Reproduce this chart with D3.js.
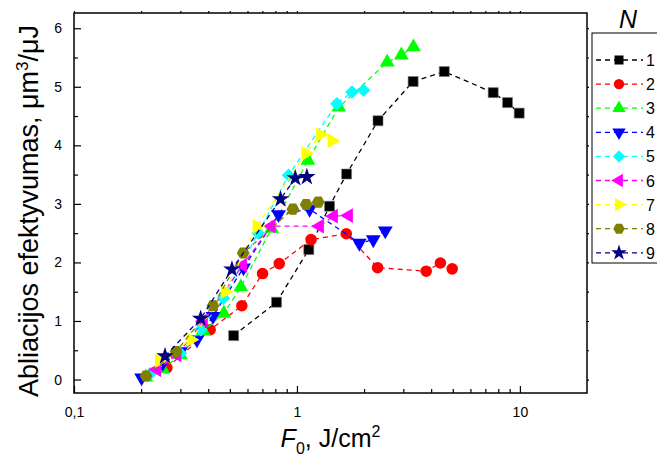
<!DOCTYPE html>
<html>
<head>
<meta charset="utf-8">
<script src="https://cdn.jsdelivr.net/npm/d3@7"></script>
<style>
  body { margin: 0; background: white; }
  text { font-family: "Liberation Sans", Arial, sans-serif; fill: black; }
</style>
</head>
<body>
<div id="container"></div>
<script>
/* CONSTANTS AND GLOBALS */
const width = 657;
const height = 457;
const margin = { top: 13, right: 70, bottom: 64, left: 74 };

// DATA - [F0 (J/cm2), ablation efficiency (um3/uJ)] FOR EACH N
const n1 = [[0.52, 0.75], [0.81, 1.32], [1.13, 2.22], [1.40, 2.96], [1.67, 3.51], [2.31, 4.42], [3.32, 5.09], [4.58, 5.26], [7.59, 4.90], [8.80, 4.73], [9.93, 4.55]];
const n2 = [[0.261, 0.20], [0.408, 0.85], [0.566, 1.26], [0.701, 1.81], [0.833, 1.98], [1.157, 2.39], [1.665, 2.49], [2.30, 1.91], [3.80, 1.85], [4.40, 1.99], [4.97, 1.89]];
const n3 = [[0.21, 0.04], [0.25, 0.18], [0.30, 0.42], [0.38, 0.83], [0.47, 1.13], [0.56, 1.58], [0.77, 2.58], [1.12, 3.74], [1.54, 4.65], [2.54, 5.42], [2.94, 5.54], [3.33, 5.68]];
const n4 = [[0.201, 0.03], [0.25, 0.28], [0.30, 0.48], [0.356, 0.68], [0.42, 1.08], [0.576, 1.91], [0.827, 2.82], [1.14, 2.91], [1.905, 2.33], [2.20, 2.39], [2.49, 2.54]];
const n5 = [[0.22, 0.10], [0.30, 0.45], [0.37, 0.85], [0.468, 1.39], [0.67, 2.50], [0.917, 3.49], [1.51, 4.71], [1.766, 4.91], [1.99, 4.94]];
const n6 = [[0.235, 0.17], [0.29, 0.42], [0.381, 1.00], [0.571, 1.95], [0.767, 2.62], [1.264, 2.62], [1.46, 2.79], [1.705, 2.80]];
const n7 = [[0.241, 0.32], [0.334, 0.68], [0.476, 1.50], [0.661, 2.62], [1.095, 3.86], [1.273, 4.18], [1.437, 4.08]];
const n8 = [[0.2105, 0.06], [0.287, 0.48], [0.42, 1.26], [0.574, 2.16], [0.959, 2.91], [1.10, 2.99], [1.246, 3.03]];
const n9 = [[0.256, 0.40], [0.370, 1.04], [0.511, 1.88], [0.844, 3.08], [0.983, 3.44], [1.108, 3.46]];

const seriesNames = ["1", "2", "3", "4", "5", "6", "7", "8", "9"];
const seriesData = [n1, n2, n3, n4, n5, n6, n7, n8, n9];

const xMajor = [0.1, 1, 10];
const xMinor = [0.2, 0.3, 0.4, 0.5, 0.6, 0.7, 0.8, 0.9, 2, 3, 4, 5, 6, 7, 8, 9];
const yMajor = [0, 1, 2, 3, 4, 5, 6];
const yMinor = [0.5, 1.5, 2.5, 3.5, 4.5, 5.5];

// STYLES
const colors = ["#000000", "#ff0000", "#00ff00", "#0000ff", "#00ffff", "#ff00ff", "#ffff00", "#808000", "#000080"];
const shapes = ["square", "circle", "up", "down", "diamond", "left", "right", "hexagon", "star"];

// CREATE SVG
const svg = d3.select("#container")
  .append("svg")
  .attr("width", width)
  .attr("height", height)
  .style("background-color", "white");

// SCALES
const xScale = d3.scaleLog()
  .domain([0.1, 20])
  .range([margin.left, width - margin.right]);

const yScale = d3.scaleLinear()
  .domain([-0.23, 6.26])
  .range([height - margin.bottom, margin.top]);

const x0 = margin.left, x1 = width - margin.right;
const y0 = height - margin.bottom, y1 = margin.top;

// MARKER SHAPES
function markerPath(shape) {
  if (shape === "square") return d3.symbol(d3.symbolSquare, 100)();
  if (shape === "circle") return d3.symbol(d3.symbolCircle, 105)();
  if (shape === "diamond") return "M0,-6.8L6.8,0L0,6.8L-6.8,0Z";
  if (shape === "star") return d3.symbol(d3.symbolStar, 95)();
  if (shape === "hexagon") {
    const r = 6.4;
    return "M" + d3.range(6).map(i => {
      const a = Math.PI / 3 * i;
      return [r * Math.cos(a), r * Math.sin(a)].join(",");
    }).join("L") + "Z";
  }
  // triangles
  return d3.symbol(d3.symbolTriangle, 95)();
}
function markerRotate(shape) {
  if (shape === "down") return 180;
  if (shape === "left") return -90;
  if (shape === "right") return 90;
  return 0;
}

// AXES - BOTTOM AND LEFT WITH INWARD TICKS
const fmt = d => String(d).replace(".", ",");

const xAxis = d3.axisBottom(xScale)
  .tickValues(xMajor)
  .tickSize(-7)
  .tickPadding(14)
  .tickFormat(fmt);

const xAxisMinor = d3.axisBottom(xScale)
  .tickValues(xMinor)
  .tickSize(-4)
  .tickFormat("");

const yAxis = d3.axisLeft(yScale)
  .tickValues(yMajor)
  .tickSize(-7)
  .tickPadding(12)
  .tickFormat(d3.format("d"));

const yAxisMinor = d3.axisLeft(yScale)
  .tickValues(yMinor)
  .tickSize(-4)
  .tickFormat("");

svg.append("g").attr("class", "axis")
  .attr("transform", "translate(0," + y0 + ")")
  .call(xAxis);
svg.append("g").attr("class", "axis")
  .attr("transform", "translate(0," + y0 + ")")
  .call(xAxisMinor);

svg.append("g").attr("class", "axis")
  .attr("transform", "translate(" + x0 + ",0)")
  .call(yAxis);
svg.append("g").attr("class", "axis")
  .attr("transform", "translate(" + x0 + ",0)")
  .call(yAxisMinor);

// TOP AND RIGHT MIRROR AXES WITH SMALL TICKS
svg.append("g").attr("class", "axis")
  .attr("transform", "translate(0," + y1 + ")")
  .call(d3.axisTop(xScale).tickValues(xMajor.concat(xMinor)).tickSize(2).tickFormat(""));
svg.append("g").attr("class", "axis")
  .attr("transform", "translate(" + x1 + ",0)")
  .call(d3.axisRight(yScale).tickValues(yMajor.concat(yMinor)).tickSize(2).tickFormat(""));

svg.selectAll(".axis path").remove();
svg.selectAll(".axis line").attr("stroke", "black").attr("stroke-width", 1.2);
svg.selectAll(".axis text").style("font-size", "14px").attr("fill", "black")
  .style("font-family", "'Liberation Sans', Arial, sans-serif");

// FRAME
svg.append("rect")
  .attr("x", x0)
  .attr("y", y1)
  .attr("width", x1 - x0)
  .attr("height", y0 - y1)
  .attr("fill", "none")
  .attr("stroke", "black")
  .attr("stroke-width", 1.5);

// SERIES: DASHED LINES + MARKERS
const line = d3.line()
  .x(d => xScale(d[0]))
  .y(d => yScale(d[1]));

seriesData.forEach((data, i) => {
  const g = svg.append("g").attr("class", "series");

  g.append("path")
    .datum(data)
    .attr("d", line)
    .attr("fill", "none")
    .attr("stroke", colors[i])
    .attr("stroke-width", 1.3)
    .attr("stroke-dasharray", "5,4");

  g.selectAll("path.marker")
    .data(data)
    .join("path")
    .attr("class", "marker")
    .attr("d", markerPath(shapes[i]))
    .attr("transform", d => `translate(${xScale(d[0])},${yScale(d[1])}) rotate(${markerRotate(shapes[i])})`)
    .attr("fill", colors[i])
    .attr("stroke", i === 0 ? "#777" : "none")
    .attr("stroke-width", 0.6);
});

// LEGEND
const legend = svg.append("g").attr("class", "legend");
const legX = 592, legY = 33, rowH = 24.1;

legend.append("rect")
  .attr("x", legX)
  .attr("y", legY)
  .attr("width", 90)
  .attr("height", 230)
  .attr("fill", "white")
  .attr("stroke", "black")
  .attr("stroke-width", 1);

legend.append("text")
  .attr("x", 628)
  .attr("y", 28)
  .attr("text-anchor", "middle")
  .style("font-size", "25px")
  .style("font-style", "italic")
  .text("N");

seriesNames.forEach((name, i) => {
  const cy = 60 + i * rowH;
  legend.append("line")
    .attr("x1", 596).attr("x2", 643)
    .attr("y1", cy).attr("y2", cy)
    .attr("stroke", colors[i])
    .attr("stroke-width", 1.3)
    .attr("stroke-dasharray", "5,4");
  legend.append("path")
    .attr("d", markerPath(shapes[i]))
    .attr("transform", `translate(619,${cy}) rotate(${markerRotate(shapes[i])}) scale(0.9)`)
    .attr("fill", colors[i]);
  legend.append("text")
    .attr("x", 646)
    .attr("y", cy + 6)
    .style("font-size", "16px")
    .text(name);
});

// AXIS LABELS
const xLabel = svg.append("text")
  .attr("x", (x0 + x1) / 2)
  .attr("y", 447)
  .attr("text-anchor", "middle")
  .style("font-size", "25px");
xLabel.append("tspan").style("font-style", "italic").text("F");
xLabel.append("tspan").attr("dy", 7).style("font-size", "16px").text("0");
xLabel.append("tspan").attr("dy", -7).text(", J/cm");
xLabel.append("tspan").attr("dy", -10).style("font-size", "16px").text("2");

const yLabel = svg.append("text")
  .attr("transform", "rotate(-90)")
  .attr("x", -(y0 + y1) / 2 - 8)
  .attr("y", 38)
  .attr("text-anchor", "middle")
  .style("font-size", "27px");
yLabel.append("tspan").text("Abliacijos efektyvumas, μm");
yLabel.append("tspan").attr("dy", -10).style("font-size", "17px").text("3");
yLabel.append("tspan").attr("dy", 10).text("/μJ");
</script>
</body>
</html>
